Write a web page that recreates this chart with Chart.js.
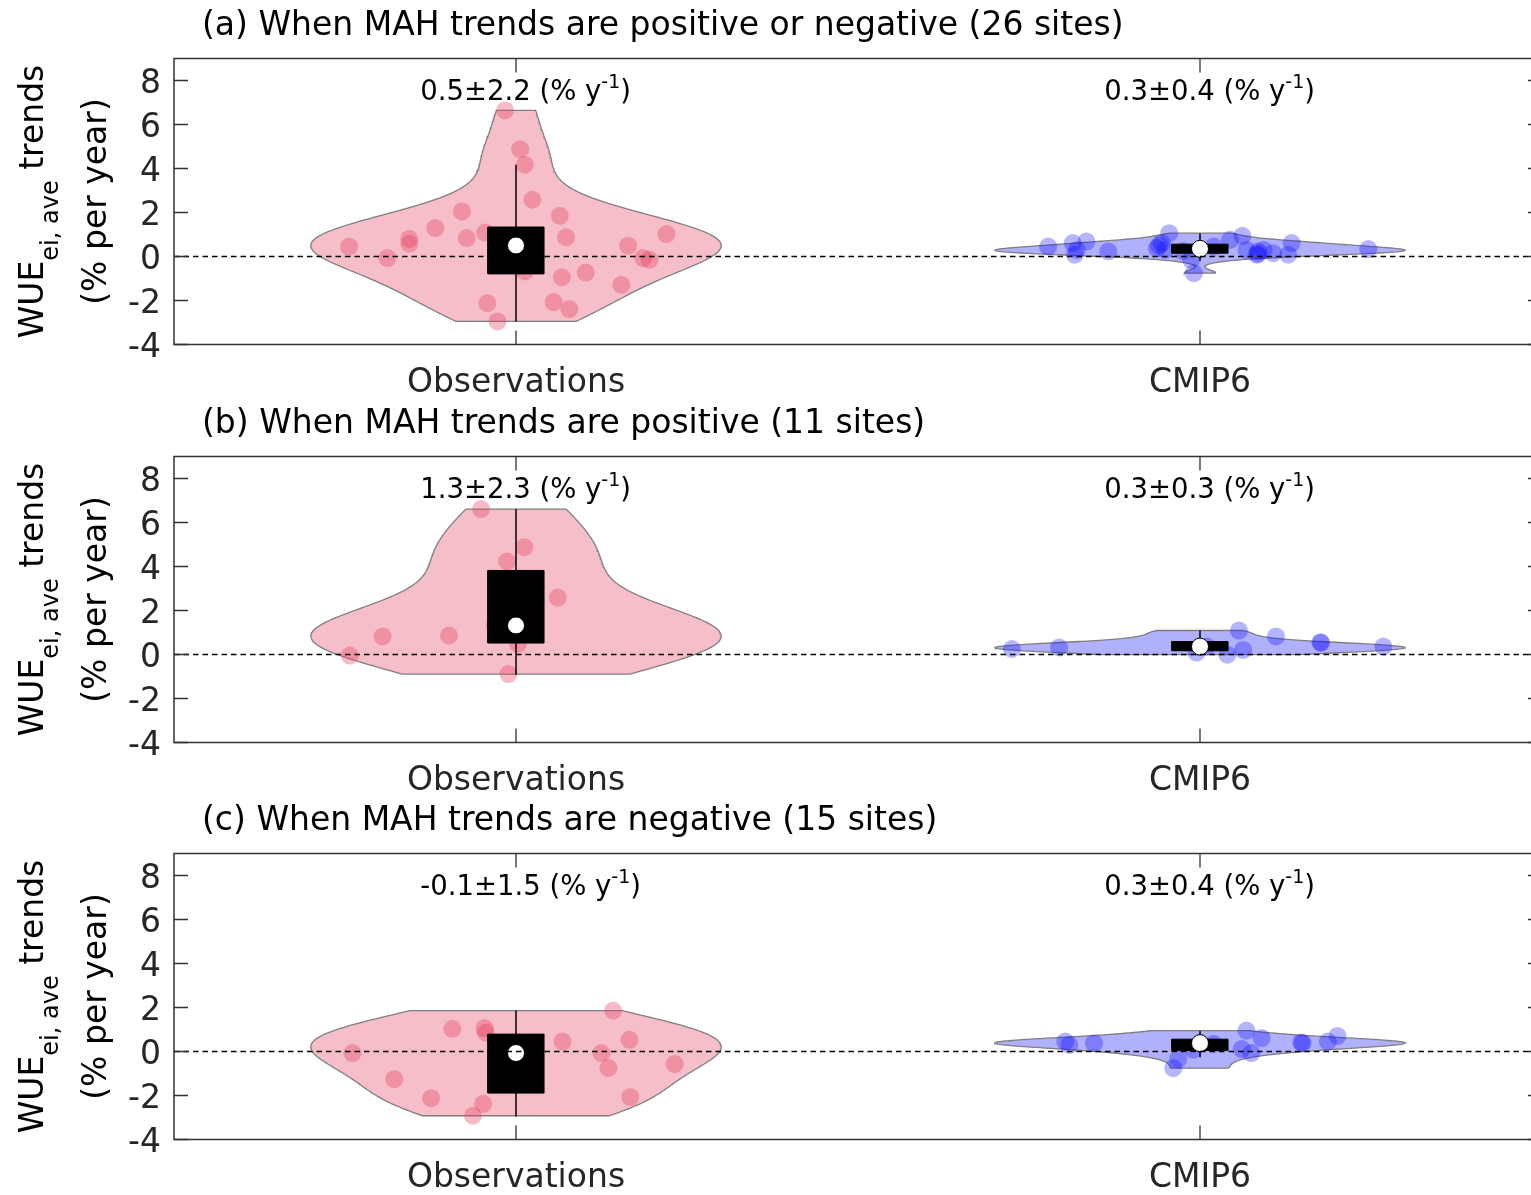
<!DOCTYPE html>
<html>
<head>
<meta charset="utf-8">
<script src="https://cdn.jsdelivr.net/npm/chart.js@4.4.1/dist/chart.umd.min.js"></script>
<style>
  html, body { margin: 0; padding: 0; background: #fff; }
  #wrap { position: relative; width: 1531px; height: 1195px; overflow: hidden; }
  canvas { position: absolute; left: 0; }
</style>
</head>
<body>
<div id="wrap">
  <canvas id="pa" width="1531" height="398" style="top:0px"></canvas>
  <canvas id="pb" width="1531" height="398" style="top:398px"></canvas>
  <canvas id="pc" width="1531" height="400" style="top:795px"></canvas>
</div>
<script>
// categories, ticks and labels
const categories = ["Observations", "CMIP6"];
const yTicks = [-4, -2, 0, 2, 4, 6, 8];
const panelTitles = [
  "(a) When MAH trends are positive or negative (26 sites)",
  "(b) When MAH trends are positive (11 sites)",
  "(c) When MAH trends are negative (15 sites)"
];
const statText = [
  ["0.5±2.2", "0.3±0.4"],
  ["1.3±2.3", "0.3±0.3"],
  ["-0.1±1.5", "0.3±0.4"]
];

// (a) observations: trend values and jittered x positions
const obsAVal = [6.64, 4.88, 4.17, 2.58, 2.05, 1.85, 1.29, 1.09, 0.84, 0.88, 1.02, 0.80, 0.58,
  0.45, 0.49, -0.07, -0.07, -0.15, -0.68, -0.94, -0.73, -1.29, -2.12, -2.07, -2.39, -2.95];
const obsAPos = [0.984, 1.006, 1.013, 1.024, 0.921, 1.064, 0.882, 0.955, 0.928, 1.073, 1.22, 0.844, 0.844,
  0.756, 1.164, 0.812, 1.186, 1.195, 1.013, 1.067, 1.102, 1.154, 0.958, 1.055, 1.078, 0.973];
// whisker low, q1, median, q3, whisker high
const obsABox = [-2.95, -0.79, 0.50, 1.34, 4.17];

// (a) CMIP6
const cmipAVal = [0.45, 0.61, 0.68, 0.30, 0.08, 0.23, 1.06, 0.61, 0.38, 0.30, -0.15, -0.76, 0.76,
  0.94, 0.30, 0.08, 0.30, 0.15, 0.08, 0.61, 0.34, 0.23, 0.50, 0.25, 0.45, 0.12];
const cmipAPos = [1.778, 1.814, 1.834, 1.820, 1.817, 1.866, 1.955, 1.944, 1.937, 1.949, 1.987, 1.991, 2.044,
  2.062, 2.068, 2.083, 2.093, 2.107, 2.129, 2.134, 2.246, 2.085, 1.940, 1.975, 2.020, 2.085];
const cmipABox = [-0.20, 0.15, 0.35, 0.56, 1.06];

// (b) observations
const obsBVal = [6.61, 4.88, 4.23, 2.59, 0.82, 0.86, 1.35, 0.49, -0.05, -0.89, 1.30];
const obsBPos = [0.949, 1.012, 0.987, 1.061, 0.805, 0.902, 0.969, 1.003, 0.757, 0.989, 1.020];
const obsBBox = [-0.92, 0.52, 1.32, 3.82, 6.61];

// (b) CMIP6
const cmipBVal = [0.25, 0.32, 0.09, -0.01, 0.21, 1.09, 0.82, 0.56, 0.53, 0.36, 0.36];
const cmipBPos = [1.725, 1.794, 1.995, 2.040, 2.063, 2.057, 2.111, 2.176, 2.177, 2.268, 2.010];
const cmipBBox = [-0.01, 0.17, 0.36, 0.59, 1.09];

// (c) observations
const obsCVal = [1.86, 1.03, 1.06, 0.86, 0.45, 0.53, -0.07, -0.07, -0.75, -0.57, -1.26, -2.12, -2.38, -2.92, -2.07];
const obsCPos = [1.142, 0.907, 0.954, 0.956, 1.068, 1.166, 0.761, 1.125, 1.135, 1.232, 0.822, 0.876, 0.952, 0.937, 1.167];
const obsCBox = [-2.95, -1.89, -0.07, 0.79, 1.86];

// (c) CMIP6
const cmipCVal = [0.45, 0.30, 0.38, -0.76, -0.35, 0.08, 0.95, 0.61, 0.11, -0.07, 0.41, 0.38, 0.45, 0.71, 0.35];
const cmipCPos = [1.803, 1.809, 1.845, 1.961, 1.968, 1.990, 2.068, 2.090, 2.061, 2.075, 2.148, 2.150, 2.187, 2.201, 2.020];
const cmipCBox = [-0.26, 0.05, 0.38, 0.56, 0.93];

const panels = [
  { id: "pa", obs: [obsAVal, obsAPos, obsABox], cmip: [cmipAVal, cmipAPos, cmipABox] },
  { id: "pb", obs: [obsBVal, obsBPos, obsBBox], cmip: [cmipBVal, cmipBPos, cmipBBox] },
  { id: "pc", obs: [obsCVal, obsCPos, obsCBox], cmip: [cmipCVal, cmipCPos, cmipCBox] }
];

const FONT = '"DejaVu Sans", "Liberation Sans", Arial, sans-serif';
const xMax = 0.5 + 1357 / 684; // axis continues past the right edge of the picture
const violinWidth = 0.3;
const boxHalf = 0.041;

function median(sorted) {
  const n = sorted.length;
  return n % 2 ? sorted[(n - 1) / 2] : (sorted[n / 2 - 1] + sorted[n / 2]) / 2;
}

// kernel density outline, like ksdensity with its default bandwidth
function violinOutline(vals, cat) {
  const n = vals.length;
  const s = [...vals].sort((a, b) => a - b);
  const med = median(s);
  const mad = median(s.map((v) => Math.abs(v - med)).sort((a, b) => a - b));
  let sig = mad / 0.6745;
  if (sig <= 0) sig = s[n - 1] - s[0];
  const bw = sig * Math.pow(4 / (3 * n), 0.2);
  const lo = s[0], hi = s[n - 1];
  const grid = [], dens = [];
  for (let i = 0; i < 100; i++) {
    const y = lo + ((hi - lo) * i) / 99;
    let d = 0;
    vals.forEach((v) => {
      const z = (y - v) / bw;
      d += Math.exp(-0.5 * z * z);
    });
    grid.push(y);
    dens.push(d);
  }
  const dmax = Math.max(...dens);
  const right = grid.map((y, i) => ({ x: cat + (violinWidth * dens[i]) / dmax, y: y }));
  const left = grid.map((y, i) => ({ x: cat - (violinWidth * dens[i]) / dmax, y: y })).reverse();
  return right.concat(left, [right[0]]);
}

function groupDatasets(group, cat, fillColor, pointColor) {
  const [vals, pos, box] = group;
  return [
    {
      data: violinOutline(vals, cat), showLine: true, fill: "shape",
      backgroundColor: fillColor, borderColor: "#7f7f7f", borderWidth: 1.3,
      pointRadius: 0, tension: 0, order: 6
    },
    {
      data: vals.map((v, i) => ({ x: pos[i], y: v })),
      backgroundColor: pointColor, borderWidth: 0, pointRadius: 9, order: 5
    },
    {
      data: [{ x: cat, y: box[0] }, { x: cat, y: box[4] }], showLine: true,
      borderColor: "#000", borderWidth: 1.5, pointRadius: 0, order: 4
    },
    {
      data: [
        { x: cat - boxHalf, y: box[1] }, { x: cat + boxHalf, y: box[1] },
        { x: cat + boxHalf, y: box[3] }, { x: cat - boxHalf, y: box[3] },
        { x: cat - boxHalf, y: box[1] }
      ],
      showLine: true, fill: "shape", backgroundColor: "#000", borderColor: "#000",
      borderWidth: 1, pointRadius: 0, tension: 0, order: 3
    },
    {
      data: [{ x: cat, y: box[2] }], backgroundColor: "#fff", borderColor: "#000",
      borderWidth: 1, pointRadius: 8.5, order: 2
    }
  ];
}

// axes box, ticks, zero line and all the text
const decor = {
  id: "decor",
  afterDatasetsDraw(chart, args, opts) {
    const { ctx, chartArea: a, scales: { x, y } } = chart;
    const y0 = y.getPixelForValue(0);
    const xr = x.getPixelForValue(2.5);
    ctx.save();
    ctx.strokeStyle = "#000";
    ctx.lineWidth = 1.4;
    ctx.setLineDash([5.5, 4]);
    ctx.beginPath();
    ctx.moveTo(a.left, y0);
    ctx.lineTo(a.right, y0);
    ctx.stroke();
    ctx.setLineDash([]);

    ctx.strokeStyle = "#333";
    ctx.lineWidth = 1.5;
    ctx.beginPath();
    ctx.moveTo(xr, a.top);
    ctx.lineTo(a.left, a.top);
    ctx.lineTo(a.left, a.bottom);
    ctx.lineTo(xr, a.bottom);
    ctx.stroke();

    ctx.lineWidth = 1.3;
    ctx.beginPath();
    yTicks.forEach((t) => {
      const py = y.getPixelForValue(t);
      ctx.moveTo(a.left, py); ctx.lineTo(a.left + 14, py);
      ctx.moveTo(xr, py); ctx.lineTo(xr - 14, py);
    });
    [1, 2].forEach((c) => {
      const px = x.getPixelForValue(c);
      ctx.moveTo(px, a.bottom); ctx.lineTo(px, a.bottom - 14);
      ctx.moveTo(px, a.top); ctx.lineTo(px, a.top + 14);
    });
    ctx.stroke();
    ctx.restore();
  },
  afterDraw(chart, args, opts) {
    const { ctx, chartArea: a, scales: { x, y } } = chart;
    ctx.save();
    ctx.fillStyle = "#000";
    ctx.textBaseline = "alphabetic";

    // title
    ctx.textAlign = "left";
    ctx.font = "33px " + FONT;
    ctx.fillText(opts.title, 202, a.top - 23.5);

    // y tick labels
    ctx.fillStyle = "#262626";
    ctx.textAlign = "right";
    yTicks.forEach((t) => {
      ctx.fillText(String(t), 161, y.getPixelForValue(t) + 12);
    });

    // category labels
    ctx.textAlign = "center";
    categories.forEach((c, i) => {
      ctx.fillText(c, x.getPixelForValue(i + 1), a.bottom + 47.5);
    });

    // stats text with superscript
    ctx.fillStyle = "#000";
    ctx.textAlign = "left";
    opts.stats.forEach((s, i) => {
      let px = x.getPixelForValue(i + 1 - 0.14);
      const py = y.getPixelForValue(7.1);
      ctx.font = "27.5px " + FONT;
      const main = s + " (% y";
      ctx.fillText(main, px, py);
      px += ctx.measureText(main).width;
      ctx.font = "19px " + FONT;
      ctx.fillText("-1", px, py - 12);
      px += ctx.measureText("-1").width;
      ctx.font = "27.5px " + FONT;
      ctx.fillText(")", px, py);
    });

    // y axis label
    const cy = (a.top + a.bottom) / 2;
    const big = "33px " + FONT, small = "24px " + FONT;
    ctx.font = big;
    const w1 = ctx.measureText("WUE").width;
    const w3 = ctx.measureText(" trends").width;
    ctx.font = small;
    const w2 = ctx.measureText("ei, ave").width;
    ctx.save();
    ctx.translate(43, cy);
    ctx.rotate(-Math.PI / 2);
    let lx = -(w1 + w2 + w3) / 2;
    ctx.font = big;
    ctx.fillText("WUE", lx, 0);
    lx += w1;
    ctx.font = small;
    ctx.fillText("ei, ave", lx, 15);
    lx += w2;
    ctx.font = big;
    ctx.fillText(" trends", lx, 0);
    ctx.restore();

    ctx.save();
    ctx.translate(106, cy);
    ctx.rotate(-Math.PI / 2);
    ctx.textAlign = "center";
    ctx.font = big;
    ctx.fillText("(% per year)", 0, 0);
    ctx.restore();

    ctx.restore();
  }
};

panels.forEach((p, k) => {
  const canvas = document.getElementById(p.id);
  const h = canvas.height;
  new Chart(canvas, {
    type: "scatter",
    data: {
      datasets: [
        ...groupDatasets(p.obs, 1, "rgb(246,190,201)", "rgba(229,60,92,0.35)"),
        ...groupDatasets(p.cmip, 2, "rgb(176,176,253)", "rgba(10,10,255,0.3)")
      ]
    },
    options: {
      responsive: false,
      animation: false,
      devicePixelRatio: 1,
      events: [],
      layout: { autoPadding: false, padding: { left: 174, top: 58.5, right: 0, bottom: h - 344.5 } },
      scales: {
        x: { type: "linear", min: 0.5, max: xMax, display: false },
        y: { type: "linear", min: -4, max: 9, display: false }
      },
      plugins: {
        legend: { display: false },
        tooltip: { enabled: false },
        decor: { title: panelTitles[k], stats: statText[k] }
      }
    },
    plugins: [decor]
  });
});
</script>
</body>
</html>
